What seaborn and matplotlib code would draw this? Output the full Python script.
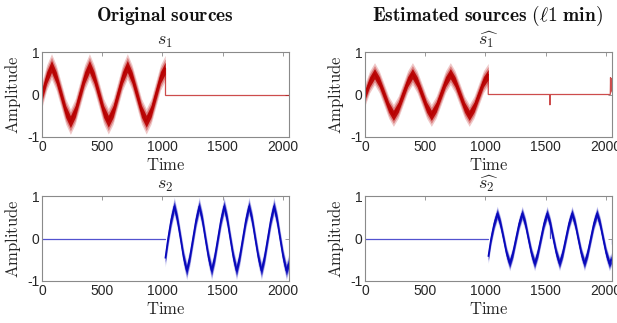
import numpy as np
import pandas as pd
import matplotlib
matplotlib.use("Agg")
import matplotlib.pyplot as plt
import seaborn as sns

# ---------------- data ----------------
# s1 original: noisy oscillation on [0, 1024], then zero
s1_t = [0, 39, 79, 118, 158, 197, 236, 276, 315, 354, 394, 433, 473, 512,
        551, 591, 630, 669, 709, 748, 788, 827, 866, 906, 945, 984, 1024]
s1_v = [0.0, 0.40, 0.66, 0.40, 0.0, -0.40, -0.64, -0.40, 0.0, 0.40, 0.66, 0.40, 0.0, -0.40,
        -0.63, -0.40, 0.0, 0.40, 0.66, 0.40, 0.0, -0.40, -0.63, -0.40, 0.0, 0.40, 0.62]
s1_flat_t = [1024, 1024, 2048]
s1_flat_v = [0.62, 0.0, 0.0]
s1_noise = (0.14, 0.30)          # (dense core, outer spikes) half-widths

# s2 original: zero on [0, 1024], then noisy oscillation
s2_flat_t = [0, 1024]
s2_flat_v = [0.0, 0.0]
s2_t = [1024, 1047, 1073, 1099, 1125, 1151, 1176, 1202, 1228, 1254, 1280, 1306, 1332,
        1357, 1383, 1409, 1435, 1461, 1487, 1513, 1539, 1564, 1590, 1616, 1642, 1668,
        1694, 1720, 1746, 1771, 1797, 1823, 1849, 1875, 1901, 1927, 1953, 1978, 2004,
        2030, 2048]
s2_v = [-0.46, 0.0, 0.44, 0.76, 0.44, 0.0, -0.44, -0.76, -0.44, 0.0, 0.44, 0.76, 0.44,
        0.0, -0.44, -0.76, -0.44, 0.0, 0.44, 0.76, 0.44, 0.0, -0.44, -0.76, -0.44, 0.0,
        0.44, 0.76, 0.44, 0.0, -0.44, -0.76, -0.44, 0.0, 0.44, 0.76, 0.44, 0.0, -0.44,
        -0.76, -0.60]
s2_noise = (0.10, 0.21)

# estimated s1
e1_t = s1_t
e1_v = [0.0, 0.30, 0.49, 0.30, 0.0, -0.30, -0.49, -0.30, 0.0, 0.30, 0.49, 0.30, 0.0, -0.30,
        -0.49, -0.30, 0.0, 0.30, 0.49, 0.30, 0.0, -0.30, -0.49, -0.30, 0.0, 0.30, 0.47]
e1_flat_t = [1024, 1024, 1535, 1536, 1537, 2038, 2040, 2042, 2044, 2046, 2048]
e1_flat_v = [0.47, 0.0, 0.0, -0.25, 0.0, 0.0, 0.40, 0.05, 0.38, 0.1, 0.35]
e1_noise = (0.12, 0.26)

# estimated s2
e2_flat_t = [0, 1024]
e2_flat_v = [0.0, 0.0]
e2_t = [1024, 1047, 1073, 1099, 1125, 1151, 1176, 1202, 1228, 1254, 1280, 1306, 1332,
        1357, 1383, 1409, 1435, 1461, 1487, 1513, 1539, 1564, 1590, 1616, 1642, 1668,
        1694, 1720, 1746, 1771, 1797, 1823, 1849, 1875, 1901, 1927, 1953, 1978, 2004,
        2030, 2046]
e2_v = [-0.42, 0.0, 0.35, 0.59, 0.35, 0.0, -0.35, -0.59, -0.35, 0.0, 0.35, 0.59, 0.35,
        0.0, -0.35, -0.59, -0.35, 0.0, 0.35, 0.59, 0.35, 0.0, -0.35, -0.59, -0.35, 0.0,
        0.35, 0.59, 0.35, 0.0, -0.35, -0.59, -0.35, 0.0, 0.35, 0.59, 0.35, 0.0, -0.35,
        -0.59, -0.50]
e2_spike1_t = [1536, 1536]
e2_spike1_v = [0.40, 0.02]
e2_spike2_t = [2048, 2048]
e2_spike2_v = [-0.12, 0.0]
e2_noise = (0.09, 0.17)

col_titles = [r"Original\ sources", r"Estimated\ sources\ (\ell 1\ min)"]
sub_titles = [r"$s_1$", r"$\widehat{s_1}$", r"$s_2$", r"$\widehat{s_2}$"]
x_ticks = [0, 500, 1000, 1500, 2000]
y_ticks = [-1, 0, 1]
y_ticklabels = ["-1", "0", "1"]

RED = "#b80000"
BLUE = "#0808bb"

# ---------------- style ----------------
sns.set_theme(style="white")
plt.rcParams["font.family"] = ["Liberation Sans", "DejaVu Sans"]
plt.rcParams["mathtext.fontset"] = "cm"

fig = plt.figure(figsize=(6.17, 3.23), dpi=100)

left_x = [42 / 617, 365 / 617]
width = 246.5 / 617
bottom_y = [1 - 137 / 323, 1 - 281 / 323]
height = 85 / 323

panels = [
    (0, 0, s1_t, s1_v, s1_noise, [(s1_flat_t, s1_flat_v)], RED),
    (0, 1, e1_t, e1_v, e1_noise, [(e1_flat_t, e1_flat_v)], RED),
    (1, 0, s2_t, s2_v, s2_noise, [(s2_flat_t, s2_flat_v)], BLUE),
    (1, 1, e2_t, e2_v, e2_noise, [(e2_flat_t, e2_flat_v), (e2_spike1_t, e2_spike1_v),
                                  (e2_spike2_t, e2_spike2_v)], BLUE),
]

for i, (r, c, tt, vv, noise, flats, color) in enumerate(panels):
    ax = fig.add_axes([left_x[c], bottom_y[r], width, height])
    t = np.asarray(tt, float)
    v = np.asarray(vv, float)
    inner, outer = noise
    ax.fill_between(t, v - outer, v + outer, color=color, alpha=0.22, lw=0)
    ax.fill_between(t, v - (inner + outer) / 2, v + (inner + outer) / 2, color=color,
                    alpha=0.35, lw=0)
    ax.fill_between(t, v - inner, v + inner, color=color, alpha=0.92, lw=0)
    df = pd.DataFrame({"t": t, "v": v})
    sns.lineplot(data=df, x="t", y="v", ax=ax, color=color, lw=1.0, sort=False,
                 estimator=None)
    for ft, fv in flats:
        ax.plot(ft, fv, color=color, lw=0.9, alpha=0.7, solid_joinstyle="miter")
    ax.set_xlim(0, 2048)
    ax.set_ylim(-1, 1)
    ax.set_xticks(x_ticks)
    ax.set_yticks(y_ticks)
    ax.set_yticklabels(y_ticklabels)
    ax.tick_params(direction="in", length=3, width=0.6, color="#8a8a8a",
                   top=True, right=True, labelsize=10, labelcolor="#262626", pad=2)
    for lab in ax.get_xticklabels() + ax.get_yticklabels():
        lab.set_fontfamily(["Liberation Sans", "DejaVu Sans"])
    for sp in ax.spines.values():
        sp.set_color("#8a8a8a")
        sp.set_linewidth(0.8)
        sp.set_visible(True)
    ax.set_xlabel(r"$\mathrm{Time}$", fontsize=12, labelpad=2.5, color="#262626")
    ax.set_ylabel(r"$\mathrm{Amplitude}$", fontsize=12, labelpad=2.5, color="#262626")
    ax.set_title(sub_titles[i], fontsize=13, pad=5, color="#262626")

title_x = [165 / 617, 487 / 617]
for c in range(2):
    fig.text(title_x[c], 1 - 16 / 323, r"$\mathbf{" + col_titles[c] + "}$",
             ha="center", va="center", fontsize=14, color="#111111")

fig.savefig("out.png", dpi=100, facecolor="white")
